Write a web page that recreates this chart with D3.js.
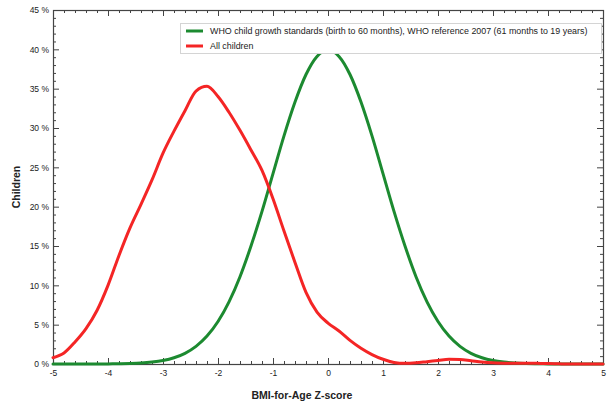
<!DOCTYPE html>
<html><head><meta charset="utf-8">
<script src="https://cdn.jsdelivr.net/npm/d3@7"></script>
<style>
body{margin:0;background:#fff;}
svg{display:block;font-family:"Liberation Sans",Arial,sans-serif;}
</style></head>
<body><svg id="c" width="610" height="409"></svg>
<script>
const zScores = [-5,-4.8,-4.6,-4.4,-4.2,-4,-3.8,-3.6,-3.4,-3.2,-3,-2.8,-2.6,-2.4,-2.2,-2,-1.8,-1.6,-1.4,-1.2,-1,-0.8,-0.6,-0.4,-0.2,0,0.2,0.4,0.6,0.8,1,1.2,1.4,1.6,1.8,2,2.2,2.4,2.6,2.8,3,3.2,3.4,3.6,3.8,4,4.2,4.4,4.6,4.8,5];
const whoValues = [0,0,0,0,0,0.01,0.03,0.06,0.12,0.24,0.44,0.79,1.36,2.24,3.55,5.4,7.9,11.1,15.0,19.4,24.2,29.0,33.3,36.8,39.1,39.9,39.1,36.8,33.3,29.0,24.2,19.4,15.0,11.1,7.9,5.4,3.55,2.24,1.36,0.79,0.44,0.24,0.12,0.06,0.03,0.01,0,0,0,0,0];
const allChildren = [0.8,1.4,2.8,4.5,6.8,10.0,13.8,17.3,20.3,23.4,26.8,29.6,32.2,34.7,35.3,34.0,32.0,29.7,27.2,24.6,21.0,16.9,12.9,9.1,6.6,5.2,4.2,3.0,2.0,1.2,0.6,0.2,0.08,0.15,0.3,0.45,0.6,0.58,0.42,0.25,0.15,0.1,0.1,0.1,0.08,0.05,0.02,0,0,0,0];
const xTicks = [-5,-4,-3,-2,-1,0,1,2,3,4,5];
const yTicks = [0,5,10,15,20,25,30,35,40,45];
const seriesNames = ["WHO child growth standards (birth to 60 months), WHO reference 2007 (61 months to 19 years)","All children"];
const seriesColors = ["#1c8a30","#f42525"];
const xTitle = "BMI-for-Age Z-score";
const yTitle = "Children";

const svg = d3.select("#c");
const L=53,R=603,T=10,B=364;
const x = d3.scaleLinear().domain([-5,5]).range([L,R]);
const y = d3.scaleLinear().domain([0,45]).range([B,T]);
const axisColor="#444";

const xMinor = d3.range(-50,51,2).map(d=>d/10).filter(d=>!xTicks.includes(d));
const yMinor = d3.range(0,46,1).filter(d=>!yTicks.includes(d));

function styleAxis(g){
  g.selectAll("path.domain").remove();
  g.selectAll("line").attr("stroke",axisColor);
  g.selectAll("text").attr("fill","#222").style("font-size","8.5px");
}
function addAxis(axis, tr){
  svg.append("g").attr("transform",tr).call(axis).call(styleAxis);
}
addAxis(d3.axisBottom(x).tickValues(xTicks).tickSize(-6).tickPadding(6).tickFormat(d=>String(d)), `translate(0,${B})`);
addAxis(d3.axisBottom(x).tickValues(xMinor).tickSize(-3).tickFormat(""), `translate(0,${B})`);
addAxis(d3.axisTop(x).tickValues(xTicks).tickSize(-6).tickFormat(""), `translate(0,${T})`);
addAxis(d3.axisTop(x).tickValues(xMinor).tickSize(-3).tickFormat(""), `translate(0,${T})`);
addAxis(d3.axisLeft(y).tickValues(yTicks).tickSize(-6).tickPadding(4).tickFormat(d=>d+" %"), `translate(${L},0)`);
addAxis(d3.axisLeft(y).tickValues(yMinor).tickSize(-3).tickFormat(""), `translate(${L},0)`);
addAxis(d3.axisRight(y).tickValues(yTicks).tickSize(-6).tickFormat(""), `translate(${R},0)`);
addAxis(d3.axisRight(y).tickValues(yMinor).tickSize(-3).tickFormat(""), `translate(${R},0)`);

svg.append("rect").attr("x",L+0.5).attr("y",T+0.5).attr("width",R-L).attr("height",B-T)
  .attr("fill","none").attr("stroke",axisColor).attr("stroke-width",1.2);

// lines
const plot = svg.append("g");
const series = [whoValues, allChildren];
series.forEach((vals,i)=>{
  const line = d3.line().x((d,j)=>x(zScores[j])).y(d=>y(d)).curve(d3.curveMonotoneX);
  plot.append("path").datum(vals).attr("d",line)
    .attr("fill","none").attr("stroke",seriesColors[i]).attr("stroke-width",3)
    .attr("stroke-linejoin","round").attr("stroke-linecap","round");
});

// legend
const lg = svg.append("g");
lg.append("rect").attr("x",180.5).attr("y",23.5).attr("width",421).attr("height",30)
  .attr("fill","#fff").attr("stroke","#d4d4d4").attr("stroke-width",1);
seriesNames.forEach((n,i)=>{
  const yy = 31 + i*15;
  lg.append("line").attr("x1",186).attr("x2",203).attr("y1",yy).attr("y2",yy)
    .attr("stroke",seriesColors[i]).attr("stroke-width",3);
  lg.append("text").attr("x",210).attr("y",yy+3).text(n)
    .style("font-size","8.9px").attr("fill","#222");
});

// titles
svg.append("text").attr("x",302).attr("y",399).attr("text-anchor","middle")
  .style("font-size","10.5px").style("font-weight","bold").attr("fill","#222").text(xTitle);
svg.append("text").attr("transform",`translate(20,${(T+B)/2}) rotate(-90)`).attr("text-anchor","middle")
  .style("font-size","10.5px").style("font-weight","bold").attr("fill","#222").text(yTitle);
</script></body></html>
